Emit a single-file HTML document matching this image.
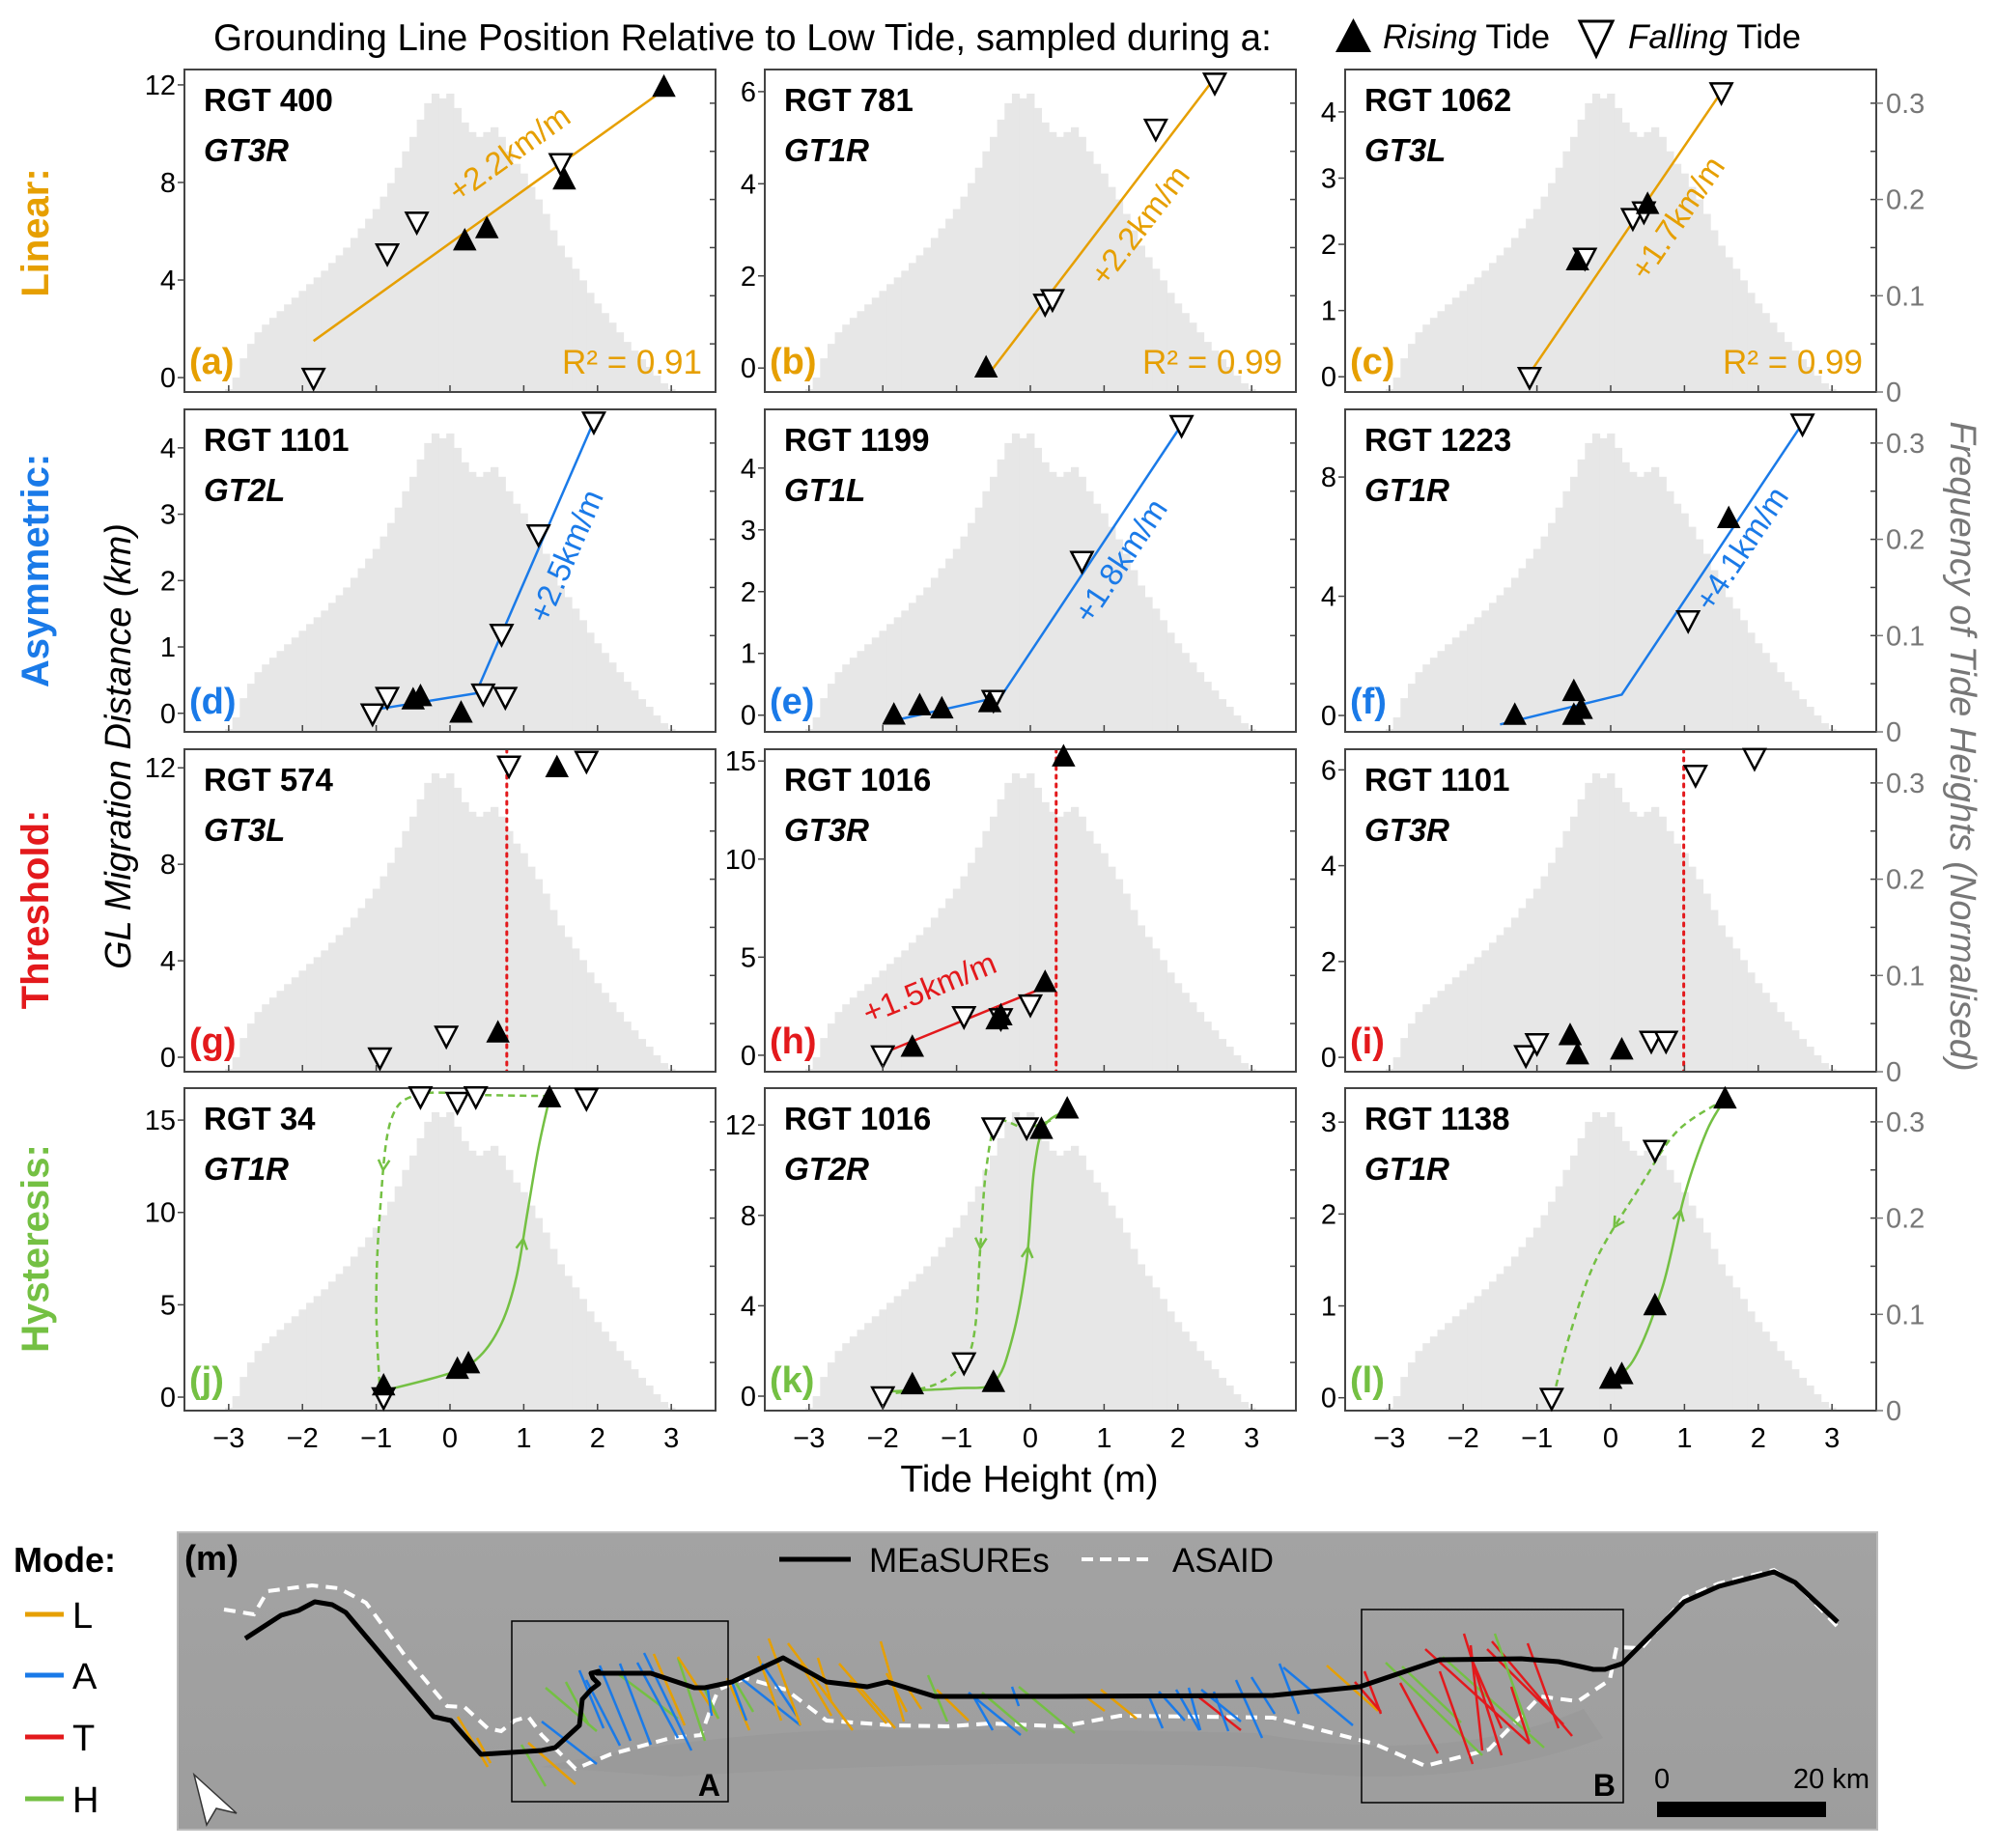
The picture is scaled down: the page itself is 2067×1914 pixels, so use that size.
<!DOCTYPE html>
<html><head><meta charset="utf-8"><style>
html,body{margin:0;padding:0;background:#fff;}
svg{display:block;font-family:"Liberation Sans",sans-serif;}
</style></head><body>
<svg id="fig" width="2067" height="1914" viewBox="0 0 2067 1914" xmlns="http://www.w3.org/2000/svg">
<rect width="2067" height="1914" fill="#fff"/>
<text x="221" y="52" font-size="38.5">Grounding Line Position Relative to Low Tide, sampled during a:</text>
<g>
<polygon points="1383,54 1420,54 1401.5,19" fill="#000"/>
<text x="1432" y="50" font-size="35"><tspan font-style="italic">Rising</tspan> Tide</text>
</g>
<g>
<polygon points="1636,22 1670,22 1653,58" fill="#fff" stroke="#000" stroke-width="3"/>
<text x="1686" y="50" font-size="35"><tspan font-style="italic">Falling</tspan> Tide</text>
</g>
<text transform="translate(50,241) rotate(-90)" text-anchor="middle" font-size="40" font-weight="bold" fill="#E69F00">Linear:</text>
<text transform="translate(50,591) rotate(-90)" text-anchor="middle" font-size="40" font-weight="bold" fill="#1a7ae8">Asymmetric:</text>
<text transform="translate(50,942) rotate(-90)" text-anchor="middle" font-size="40" font-weight="bold" fill="#e3191c">Threshold:</text>
<text transform="translate(50,1293) rotate(-90)" text-anchor="middle" font-size="40" font-weight="bold" fill="#74c043">Hysteresis:</text>
<text transform="translate(135,773) rotate(-90)" text-anchor="middle" font-size="38" font-style="italic">GL Migration Distance (km)</text>
<text transform="translate(2020,773) rotate(90)" text-anchor="middle" font-size="38" font-style="italic" fill="#777">Frequency of Tide Heights (Normalised)</text>
<text x="1066" y="1545" text-anchor="middle" font-size="39">Tide Height (m)</text>
<g id="panels"></g>

<!-- Mode legend -->
<g>
<text x="14" y="1628" font-size="36" font-weight="bold">Mode:</text>
<line x1="26" y1="1672" x2="66" y2="1672" stroke="#E69F00" stroke-width="5"/><text x="75" y="1686" font-size="38">L</text>
<line x1="26" y1="1735" x2="66" y2="1735" stroke="#1a7ae8" stroke-width="5"/><text x="75" y="1749" font-size="38">A</text>
<line x1="26" y1="1799" x2="66" y2="1799" stroke="#e3191c" stroke-width="5"/><text x="75" y="1813" font-size="38">T</text>
<line x1="26" y1="1863" x2="66" y2="1863" stroke="#74c043" stroke-width="5"/><text x="75" y="1877" font-size="38">H</text>
</g>

<!-- Map -->
<g>
<defs><clipPath id="mapclip"><rect x="184" y="1587" width="1760" height="308"/></clipPath>
<linearGradient id="mapg" x1="0" y1="0" x2="0" y2="1"><stop offset="0" stop-color="#a3a3a3"/><stop offset="1" stop-color="#9d9d9d"/></linearGradient></defs>
<rect x="184" y="1587" width="1760" height="308" fill="url(#mapg)" stroke="#bbb" stroke-width="2"/>
<g clip-path="url(#mapclip)">
<path d="M560,1830 Q700,1800 860,1792 Q1100,1790 1300,1795 Q1500,1830 1640,1770 L1660,1800 Q1500,1860 1300,1830 Q1000,1820 700,1840 Z" fill="#969696" opacity="0.5"/>
</g>
<text x="191" y="1626" font-size="36" font-weight="bold">(m)</text>
<polyline fill="none" stroke="#fff" stroke-width="4" stroke-dasharray="12,8" points="232,1667 263,1672 277,1648 323,1642 351,1645 379,1660 421,1717 463,1767 481,1768 505,1790 519,1793 533,1782 547,1778 561,1797 596,1832 632,1817 695,1800 726,1797 737,1767 744,1750 772,1738 814,1750 856,1782 926,1787 982,1788 1025,1785 1100,1788 1160,1777 1318,1779 1423,1806 1476,1829 1542,1812 1595,1757 1634,1762 1667,1740 1674,1706 1700,1707 1744,1655 1780,1640 1837,1626 1862,1642 1903,1685"/>
<g stroke-width="2.5">
<line x1="474" y1="1778" x2="505" y2="1830" stroke="#E69F00"/>
<line x1="494" y1="1800" x2="508" y2="1826" stroke="#E69F00"/>
<line x1="547" y1="1805" x2="596" y2="1848" stroke="#E69F00"/>
<line x1="540" y1="1807" x2="565" y2="1850" stroke="#74c043"/>
<line x1="561" y1="1783" x2="618" y2="1827" stroke="#1a7ae8"/>
<line x1="565" y1="1748" x2="618" y2="1793" stroke="#74c043"/>
<line x1="586" y1="1742" x2="610" y2="1787" stroke="#74c043"/>
<line x1="600" y1="1730" x2="625" y2="1790" stroke="#1a7ae8"/>
<line x1="607" y1="1740" x2="642" y2="1808" stroke="#1a7ae8"/>
<line x1="621" y1="1725" x2="653" y2="1803" stroke="#1a7ae8"/>
<line x1="639" y1="1733" x2="702" y2="1780" stroke="#74c043"/>
<line x1="642" y1="1723" x2="674" y2="1807" stroke="#1a7ae8"/>
<line x1="660" y1="1722" x2="702" y2="1800" stroke="#1a7ae8"/>
<line x1="667" y1="1712" x2="716" y2="1813" stroke="#1a7ae8"/>
<line x1="677" y1="1713" x2="709" y2="1787" stroke="#E69F00"/>
<line x1="702" y1="1717" x2="730" y2="1803" stroke="#74c043"/>
<line x1="702" y1="1716" x2="744" y2="1780" stroke="#E69F00"/>
<line x1="730" y1="1750" x2="744" y2="1780" stroke="#74c043"/>
<line x1="733" y1="1750" x2="737" y2="1777" stroke="#1a7ae8"/>
<line x1="753" y1="1738" x2="776" y2="1792" stroke="#E69F00"/>
<line x1="758" y1="1742" x2="773" y2="1782" stroke="#1a7ae8"/>
<line x1="762" y1="1743" x2="780" y2="1773" stroke="#74c043"/>
<line x1="767" y1="1738" x2="829" y2="1787" stroke="#1a7ae8"/>
<line x1="785" y1="1715" x2="809" y2="1782" stroke="#E69F00"/>
<line x1="789" y1="1723" x2="825" y2="1777" stroke="#1a7ae8"/>
<line x1="796" y1="1697" x2="829" y2="1787" stroke="#E69F00"/>
<line x1="816" y1="1702" x2="883" y2="1792" stroke="#E69F00"/>
<line x1="829" y1="1723" x2="861" y2="1777" stroke="#E69F00"/>
<line x1="847" y1="1717" x2="861" y2="1763" stroke="#E69F00"/>
<line x1="869" y1="1723" x2="927" y2="1790" stroke="#E69F00"/>
<line x1="880" y1="1740" x2="918" y2="1785" stroke="#E69F00"/>
<line x1="912" y1="1700" x2="936" y2="1783" stroke="#E69F00"/>
<line x1="918" y1="1733" x2="939" y2="1773" stroke="#E69F00"/>
<line x1="939" y1="1747" x2="954" y2="1770" stroke="#E69F00"/>
<line x1="961" y1="1735" x2="981" y2="1783" stroke="#74c043"/>
<line x1="970" y1="1750" x2="1003" y2="1782" stroke="#E69F00"/>
<line x1="1003" y1="1753" x2="1057" y2="1797" stroke="#1a7ae8"/>
<line x1="1008" y1="1757" x2="1028" y2="1792" stroke="#1a7ae8"/>
<line x1="1017" y1="1753" x2="1064" y2="1793" stroke="#74c043"/>
<line x1="1048" y1="1747" x2="1055" y2="1767" stroke="#1a7ae8"/>
<line x1="1055" y1="1747" x2="1113" y2="1795" stroke="#74c043"/>
<line x1="1124" y1="1757" x2="1144" y2="1772" stroke="#E69F00"/>
<line x1="1140" y1="1750" x2="1177" y2="1780" stroke="#E69F00"/>
<line x1="1189" y1="1755" x2="1204" y2="1790" stroke="#1a7ae8"/>
<line x1="1200" y1="1752" x2="1227" y2="1782" stroke="#1a7ae8"/>
<line x1="1218" y1="1750" x2="1242" y2="1792" stroke="#1a7ae8"/>
<line x1="1231" y1="1748" x2="1243" y2="1792" stroke="#1a7ae8"/>
<line x1="1238" y1="1755" x2="1285" y2="1792" stroke="#e3191c"/>
<line x1="1244" y1="1750" x2="1285" y2="1783" stroke="#1a7ae8"/>
<line x1="1257" y1="1752" x2="1272" y2="1793" stroke="#1a7ae8"/>
<line x1="1280" y1="1740" x2="1307" y2="1800" stroke="#1a7ae8"/>
<line x1="1296" y1="1737" x2="1320" y2="1775" stroke="#1a7ae8"/>
<line x1="1325" y1="1723" x2="1345" y2="1775" stroke="#1a7ae8"/>
<line x1="1329" y1="1727" x2="1401" y2="1787" stroke="#1a7ae8"/>
<line x1="1374" y1="1725" x2="1427" y2="1772" stroke="#E69F00"/>
<line x1="1413" y1="1731" x2="1430" y2="1775" stroke="#e3191c"/>
<line x1="1403" y1="1742" x2="1430" y2="1773" stroke="#e3191c"/>
<line x1="1435" y1="1722" x2="1535" y2="1818" stroke="#74c043"/>
<line x1="1450" y1="1743" x2="1489" y2="1816" stroke="#e3191c"/>
<line x1="1452" y1="1726" x2="1513" y2="1784" stroke="#74c043"/>
<line x1="1476" y1="1708" x2="1584" y2="1806" stroke="#e3191c"/>
<line x1="1491" y1="1731" x2="1525" y2="1827" stroke="#e3191c"/>
<line x1="1494" y1="1716" x2="1599" y2="1810" stroke="#74c043"/>
<line x1="1516" y1="1692" x2="1555" y2="1818" stroke="#e3191c"/>
<line x1="1523" y1="1704" x2="1535" y2="1813" stroke="#e3191c"/>
<line x1="1523" y1="1716" x2="1555" y2="1790" stroke="#e3191c"/>
<line x1="1540" y1="1708" x2="1619" y2="1786" stroke="#e3191c"/>
<line x1="1545" y1="1700" x2="1628" y2="1798" stroke="#e3191c"/>
<line x1="1548" y1="1692" x2="1584" y2="1794" stroke="#74c043"/>
<line x1="1565" y1="1747" x2="1584" y2="1806" stroke="#e3191c"/>
<line x1="1582" y1="1702" x2="1614" y2="1790" stroke="#e3191c"/>
</g>
<polyline fill="none" stroke="#000" stroke-width="5" stroke-linejoin="round" points="254,1697 291,1673 309,1668 326,1659 344,1662 358,1670 449,1778 467,1782 498,1817 561,1813 575,1810 600,1787 603,1760 612,1750 620,1744 614,1738 612,1733 620,1731 618,1733 674,1733 719,1748 730,1748 758,1742 811,1717 856,1742 898,1747 919,1742 968,1757 1053,1757 1094,1757 1318,1756 1408,1747 1491,1719 1575,1718 1614,1721 1650,1729 1662,1729 1680,1723 1744,1659 1780,1643 1837,1628 1859,1639 1903,1680"/>
<rect x="530" y="1679" width="224" height="187" fill="none" stroke="#000" stroke-width="1.5"/>
<text x="746" y="1860" text-anchor="end" font-size="32" font-weight="bold">A</text>
<rect x="1410" y="1667" width="271" height="200" fill="none" stroke="#000" stroke-width="1.5"/>
<text x="1673" y="1860" text-anchor="end" font-size="32" font-weight="bold">B</text>
<g>
<line x1="807" y1="1615" x2="881" y2="1615" stroke="#000" stroke-width="5"/>
<text x="900" y="1628" font-size="35">MEaSUREs</text>
<line x1="1120" y1="1615" x2="1196" y2="1615" stroke="#fff" stroke-width="4" stroke-dasharray="12,7"/>
<text x="1214" y="1628" font-size="35">ASAID</text>
</g>
<g>
<rect x="1716" y="1866" width="175" height="16" fill="#000"/>
<text x="1713" y="1852" font-size="29">0</text>
<text x="1936" y="1852" text-anchor="end" font-size="29">20 km</text>
</g>
<polygon points="201,1838 245,1878 224,1873 214,1890" fill="#fff" stroke="#333" stroke-width="1.5"/>
</g>
</svg>
<script>
// ---- shared data ----
const histBins = [-3.0,-2.9,-2.8,-2.7,-2.6,-2.5,-2.4,-2.3,-2.2,-2.1,-2.0,-1.9,-1.8,-1.7,-1.6,-1.5,-1.4,-1.3,-1.2,-1.1,-1.0,-0.9,-0.8,-0.7,-0.6,-0.5,-0.4,-0.3,-0.2,-0.1,0.0,0.1,0.2,0.3,0.4,0.5,0.6,0.7,0.8,0.9,1.0,1.1,1.2,1.3,1.4,1.5,1.6,1.7,1.8,1.9,2.0,2.1,2.2,2.3,2.4,2.5,2.6,2.7,2.8,2.9,3.0];
const histFreq = [0.003,0.015,0.035,0.05,0.062,0.07,0.077,0.084,0.091,0.098,0.105,0.112,0.119,0.126,0.134,0.142,0.15,0.16,0.17,0.18,0.19,0.203,0.217,0.233,0.25,0.265,0.283,0.3,0.31,0.305,0.31,0.295,0.28,0.27,0.265,0.27,0.275,0.265,0.25,0.237,0.227,0.213,0.2,0.185,0.168,0.152,0.14,0.128,0.116,0.103,0.092,0.082,0.072,0.062,0.052,0.043,0.034,0.026,0.017,0.009,0.003];
const xTicks = [-3,-2,-1,0,1,2,3];
const rightTicks = [0,0.1,0.2,0.3];
const panelLetters = ['a','b','c','d','e','f','g','h','i','j','k','l'];
const rgtLabels = ['RGT 400','RGT 781','RGT 1062','RGT 1101','RGT 1199','RGT 1223','RGT 574','RGT 1016','RGT 1101','RGT 34','RGT 1016','RGT 1138'];
const gtLabels = ['GT3R','GT1R','GT3L','GT2L','GT1L','GT1R','GT3L','GT3R','GT3R','GT1R','GT2R','GT1R'];
const yMinArr = [-0.59,-0.52,-0.23,-0.28,-0.27,-0.55,-0.6,-0.84,-0.3,-0.73,-0.64,-0.14];
const yMaxArr = [12.63,6.48,4.64,4.58,4.95,10.27,12.77,15.6,6.43,16.73,13.63,3.37];
const yTickArr = [[0,4,8,12],[0,2,4,6],[0,1,2,3,4],[0,1,2,3,4],[0,1,2,3,4],[0,4,8],[0,4,8,12],[0,5,10,15],[0,2,4,6],[0,5,10,15],[0,4,8,12],[0,1,2,3]];
const riseX = [[0.2,0.5,1.55,2.9],[-0.6],[-0.45,0.5],[-0.5,-0.4,0.15],[-1.85,-1.5,-1.2,-0.55],[-1.3,-0.5,-0.5,-0.4,1.6],[0.65,1.45],[-1.6,-0.45,-0.4,0.2,0.45],[-0.55,-0.45,0.15],[-0.9,0.1,0.25,1.35],[-1.6,-0.5,0.15,0.5],[0,0.15,0.6,1.55]];
const riseY = [[5.6,6.1,8.1,11.9],[0],[1.75,2.6],[0.2,0.25,0.0],[0,0.15,0.1,0.2],[0,0,0.8,0.2,6.6],[1.0,12.0],[0.4,1.8,2.0,3.7,15.2],[0.45,0.05,0.15],[0.6,1.5,1.8,16.2],[0.5,0.6,11.8,12.7],[0.2,0.25,1.0,3.25]];
const fallX = [[-1.85,-0.85,-0.45,1.5],[0.2,0.3,1.7,2.5],[-1.1,-0.35,0.3,0.45,1.5],[-1.05,-0.85,0.45,0.75,0.7,1.2,1.95],[-0.5,0.7,2.05],[1.05,2.6],[-0.95,-0.05,0.8,1.85],[-2.0,-0.9,-0.4,0.0],[-1.15,-1.0,0.55,0.75,1.15,1.95],[-0.9,-0.4,0.1,0.35,1.85],[-2.0,-0.9,-0.5,-0.05],[-0.8,0.6]];
const fallY = [[0,5.1,6.4,8.8],[1.4,1.5,5.2,6.2],[0,1.8,2.4,2.5,4.3],[0.0,0.25,0.3,0.25,1.2,2.7,4.4],[0.25,2.5,4.7],[3.2,9.8],[0,0.9,12.1,12.3],[0,2.0,1.9,2.6],[0.05,0.3,0.35,0.35,5.9,6.25],[0,16.3,16.0,16.3,16.2],[0,1.5,11.9,11.9],[0,2.7]];
const fitX = [[-1.85,2.9],[-0.55,2.5],[-1.1,1.5],[-1.05,0.35,1.95],[-1.9,-0.4,2.05],[-1.5,0.15,2.6],[],[-2.0,0.25],[],[],[],[]];
const fitY = [[1.5,11.8],[-0.1,6.3],[0.05,4.3],[0.05,0.3,4.4],[-0.1,0.3,4.7],[-0.3,0.7,9.8],[],[0.1,3.55],[],[],[],[]];
const slopeText = ['+2.2km/m','+2.2km/m','+1.7km/m','+2.5km/m','+1.8km/m','+4.1km/m','','+1.5km/m','','','',''];
const slopePosX = [0.8,1.48,0.9,1.57,1.22,1.77,0,-1.37,0,0,0,0];
const slopePosY = [9.2,3.1,2.4,2.37,2.5,5.6,0,3.45,0,0,0,0];
const r2Text = ['R² = 0.91','R² = 0.99','R² = 0.99','','','','','','','','',''];
const thresholdX = [null,null,null,null,null,null,0.77,0.35,0.99,null,null,null];
const hystRiseX = [[-0.95,0,0.4,0.7,0.9,1.05,1.2,1.35],[-2.0,-1.0,-0.5,-0.25,-0.05,0.05,0.2,0.55],[-0.1,0.3,0.7,1.0,1.3,1.55]];
const hystRiseY = [[0.3,1.3,2.2,4,6.5,10,13.5,16.2],[0.2,0.35,0.6,2.5,6,10,12.0,12.7],[0.15,0.4,1.2,2.2,2.9,3.25]];
const hystFallX = [[1.35,0.5,-0.4,-0.8,-0.95,-1.0,-0.95],[0.55,0.2,-0.1,-0.45,-0.6,-0.68,-0.75,-0.9,-1.3,-2.0],[1.55,0.9,0.4,-0.2,-0.55,-0.75]];
const hystFallY = [[16.3,16.35,16.4,15,10,5,0.3],[12.7,12.1,11.9,12.1,10,6.5,3,1.5,0.5,0.05],[3.25,2.9,2.3,1.5,0.7,0.1]];
const rowColors = ['#E69F00','#1a7ae8','#e3191c','#74c043'];

const colLeft = [191,792,1393];
const rowTop = [72,424,776,1127];
const PW = 550, PH = 334, XMIN = -3.6, XMAX = 3.6, FMAX = 0.335;
const NS = 'http://www.w3.org/2000/svg';
const root = document.getElementById('panels');
function mk(tag, attrs, parent){ const e=document.createElementNS(NS,tag); for(const k in attrs) e.setAttribute(k,attrs[k]); (parent||root).appendChild(e); return e; }
function smooth(pts){
  let d='M'+pts[0][0]+','+pts[0][1];
  for(let i=0;i<pts.length-1;i++){
    const p0=pts[Math.max(0,i-1)],p1=pts[i],p2=pts[i+1],p3=pts[Math.min(pts.length-1,i+2)];
    const c1=[p1[0]+(p2[0]-p0[0])/6,p1[1]+(p2[1]-p0[1])/6];
    const c2=[p2[0]-(p3[0]-p1[0])/6,p2[1]-(p3[1]-p1[1])/6];
    d+=' C'+c1[0]+','+c1[1]+' '+c2[0]+','+c2[1]+' '+p2[0]+','+p2[1];
  }
  return d;
}

panelLetters.forEach((L,i)=>{
  const r=Math.floor(i/3), c=i%3, left=colLeft[c], top=rowTop[r];
  const color=rowColors[r], ymin=yMinArr[i], ymax=yMaxArr[i];
  const xs=v=>left+(v-XMIN)/(XMAX-XMIN)*PW;
  const ys=v=>top+PH-(v-ymin)/(ymax-ymin)*PH;
  const fs=v=>top+PH-v/FMAX*PH;
  const g=mk('g',{});
  
  
  const cp=mk('clipPath',{id:'clip'+L},g);
  mk('rect',{x:left,y:top,width:PW,height:PH},cp);
  const inner=mk('g',{'clip-path':'url(#clip'+L+')'},g);
  // histogram
  const hg=mk('g',{},inner);
  
  
  histBins.forEach((b,k)=>{
    const x0=xs(b-0.05), x1=xs(b+0.05);
    const bar=mk('rect',{x:x0,y:fs(histFreq[k]),width:x1-x0+0.6,height:top+PH-fs(histFreq[k]),fill:'#e7e7e7'},hg);
    
    
  });
  // threshold
  if(thresholdX[i]!==null){
    const tl=mk('line',{x1:xs(thresholdX[i]),x2:xs(thresholdX[i]),y1:top,y2:top+PH,stroke:'#e3191c','stroke-width':3,'stroke-dasharray':'3,6','stroke-linecap':'round'},inner);
    
    
  }
  // fit line
  if(fitX[i].length){
    const pts=fitX[i].map((x,k)=>xs(x)+','+ys(fitY[i][k])).join(' ');
    const fl=mk('polyline',{points:pts,fill:'none',stroke:color,'stroke-width':2.5},inner);
    
    
    const n=fitX[i].length;
    const dx=xs(fitX[i][n-1])-xs(fitX[i][n-2]), dy=ys(fitY[i][n-1])-ys(fitY[i][n-2]);
    const ang=Math.atan2(dy,dx)*180/Math.PI;
    const st=mk('text',{transform:'translate('+xs(slopePosX[i])+','+ys(slopePosY[i])+') rotate('+ang+')','text-anchor':'middle','dominant-baseline':'central','font-size':33,fill:color},inner);
    st.textContent=slopeText[i];
    
    
  }
  // hysteresis curves
  if(r===3){
    const rp=hystRiseX[c].map((x,k)=>[xs(x),ys(hystRiseY[c][k])]);
    const fp=hystFallX[c].map((x,k)=>[xs(x),ys(hystFallY[c][k])]);
    const sc=mk('path',{d:smooth(rp),fill:'none',stroke:color,'stroke-width':2.5},inner);
    
    
    const dc=mk('path',{d:smooth(fp),fill:'none',stroke:color,'stroke-width':2.5,'stroke-dasharray':'7,5'},inner);
    
    
    [[sc,0.62],[dc,0.5]].forEach(([p,f])=>{
      const len=p.getTotalLength(), a=p.getPointAtLength(len*f), b=p.getPointAtLength(len*f-4);
      const ang=Math.atan2(a.y-b.y,a.x-b.x);
      const s=12, w=0.5;
      const p1=[a.x-s*Math.cos(ang-w),a.y-s*Math.sin(ang-w)], p2=[a.x-s*Math.cos(ang+w),a.y-s*Math.sin(ang+w)];
      const ar=mk('polyline',{points:p1.join(',')+' '+a.x+','+a.y+' '+p2.join(','),fill:'none',stroke:color,'stroke-width':2.5},inner);
      
      
    });
  }
  // frame
  const fr=mk('rect',{x:left,y:top,width:PW,height:PH,fill:'none',stroke:'#444','stroke-width':2},g);
  
  
  // markers (not clipped)
  fallX[i].forEach((x,k)=>{
    const cx=xs(x), cy=ys(fallY[i][k]);
    const m=mk('polygon',{points:(cx-11)+','+(cy-9)+' '+(cx+11)+','+(cy-9)+' '+cx+','+(cy+12),fill:'#fff',stroke:'#000','stroke-width':2.5},g);
    
    
  });
  riseX[i].forEach((x,k)=>{
    const cx=xs(x), cy=ys(riseY[i][k]);
    const m=mk('polygon',{points:(cx-11)+','+(cy+9)+' '+(cx+11)+','+(cy+9)+' '+cx+','+(cy-12),fill:'#000',stroke:'#000','stroke-width':1.5},g);
    
    
  });
  // y ticks
  yTickArr[i].forEach(v=>{
    mk('line',{x1:left-7,x2:left,y1:ys(v),y2:ys(v),stroke:'#444','stroke-width':1.5},g);
    const t=mk('text',{x:left-9,y:ys(v)+10,'text-anchor':'end','font-size':29},g);
    t.textContent=String(v);
    
    
  });
  // x ticks
  xTicks.forEach(v=>{
    mk('line',{x1:xs(v),x2:xs(v),y1:top+PH,y2:top+PH-7,stroke:'#444','stroke-width':1.5},g);
    if(r===3){
      const t=mk('text',{x:xs(v),y:top+PH+38,'text-anchor':'middle','font-size':29},g);
      t.textContent=(v<0?'\u2212'+(-v):String(v));
      
      
    }
  });
  // right ticks
  [0,0.05,0.1,0.15,0.2,0.25,0.3].forEach(v=>{
    mk('line',{x1:left+PW,x2:left+PW-6,y1:fs(v),y2:fs(v),stroke:'#444','stroke-width':1.5},g);
  });
  if(c===2){
    rightTicks.forEach(v=>{
      mk('line',{x1:left+PW,x2:left+PW+7,y1:fs(v),y2:fs(v),stroke:'#777','stroke-width':1.5},g);
      const t=mk('text',{x:left+PW+10,y:fs(v)+10,'font-size':29,fill:'#777'},g);
      t.textContent=String(v);
      
      
    });
  }
  // labels
  const t1=mk('text',{x:left+20,y:top+43,'font-size':33,'font-weight':'bold'},g);
  t1.textContent=rgtLabels[i];
  
  
  const t2=mk('text',{x:left+20,y:top+95,'font-size':33,'font-weight':'bold','font-style':'italic'},g);
  t2.textContent=gtLabels[i];
  
  
  const t3=mk('text',{x:left+5,y:top+PH-19,'font-size':38,'font-weight':'bold',fill:color},g);
  t3.textContent='('+L+')';
  
  
  if(r2Text[i]){
    const t4=mk('text',{x:left+PW-14,y:top+PH-19,'font-size':35,'text-anchor':'end',fill:color},g);
    t4.textContent=r2Text[i];
    
    
  }
});
</script>
</body></html>
